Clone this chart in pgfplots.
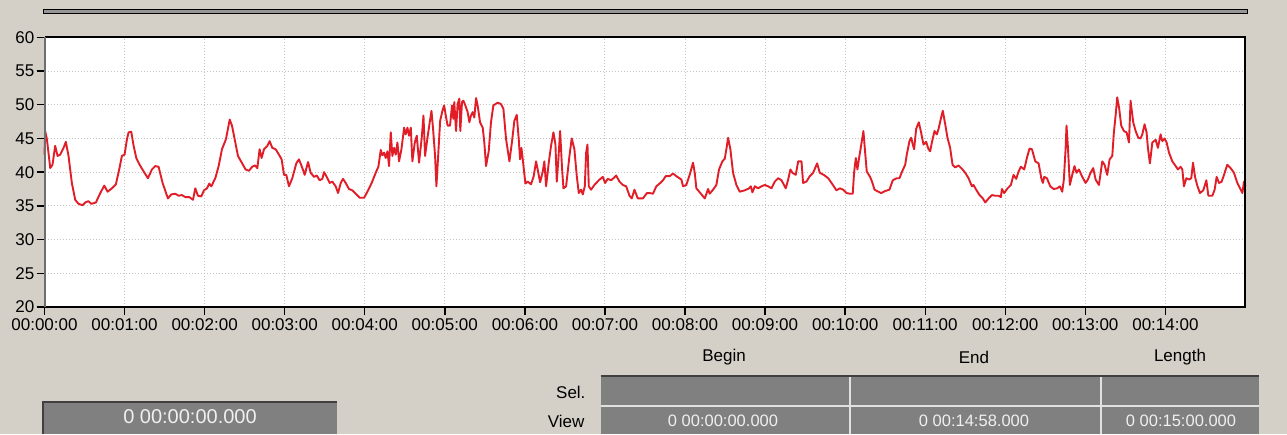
\documentclass[border=0pt]{standalone}
\usepackage{fontspec}
\setmainfont{Liberation Sans}
\usepackage{pgfplots}
\usepackage{pgfplotstable}
\pgfplotsset{compat=1.18}
\definecolor{bg}{RGB}{212,208,200}
\definecolor{boxgray}{RGB}{128,128,128}
\definecolor{boxdark}{RGB}{64,64,64}
\definecolor{leftax}{RGB}{110,110,110}
\definecolor{linered}{RGB}{225,30,40}
\definecolor{gridgray}{RGB}{196,196,196}
\definecolor{boxtext}{RGB}{240,240,240}
\definecolor{sepline}{RGB}{225,225,225}
\pgfplotstableread{
t v
0 42.6
0.5 46.1
1.8 44.9
4.3 40.6
6.0 41.1
8.0 43.9
9.8 42.4
11.8 42.6
14.3 43.6
16.0 44.5
18.0 42.4
20.5 38.4
23.0 35.9
25.5 35.3
28.5 35.1
30.5 35.5
33.0 35.7
35.0 35.3
38.5 35.5
41.8 36.9
44.8 38.0
47.3 37.1
50.5 37.6
53.5 38.2
56.0 40.4
58.0 42.4
60.0 42.6
61.8 44.9
63.0 45.9
65.0 46.0
66.8 43.9
68.8 42.1
71.3 41.1
74.3 40.1
77.5 39.1
80.5 40.4
83.0 40.9
85.5 40.8
88.5 38.4
92.5 36.1
95.0 36.7
98.0 36.8
100.5 36.5
103.0 36.6
105.5 36.3
108.5 36.3
111.3 35.9
113.0 37.6
115.0 36.5
117.5 36.4
119.5 37.3
121.8 37.6
123.5 38.3
125.0 37.9
128.0 39.1
130.5 40.9
133.0 43.4
136.0 44.9
138.8 47.8
140.5 46.9
143.0 44.4
145.0 42.4
150.7 40.4
153.2 40.2
155.7 40.8
157.7 41.0
159.5 40.6
161.2 43.4
162.7 42.1
164.5 43.4
167.0 43.9
168.7 44.6
170.7 43.6
173.2 43.4
175.7 42.6
177.7 41.9
179.5 39.6
181.2 39.6
183.2 37.9
185.7 39.1
188.7 41.3
190.7 41.9
192.7 40.9
195.0 39.6
197.5 41.5
199.5 39.9
202.0 39.3
204.0 39.5
206.2 38.8
208.2 39.0
209.5 40.0
211.5 39.3
213.7 38.4
215.7 38.6
218.2 37.9
220.0 36.9
222.0 38.4
223.7 39.0
225.7 38.4
228.2 37.5
230.7 37.3
233.2 36.8
236.2 36.2
239.5 36.2
242.0 37.1
245.2 38.4
248.2 39.9
250.2 40.8
252.0 43.3
253.2 42.5
254.5 42.9
255.7 42.1
257.0 43.1
258.2 40.9
259.5 45.9
260.7 42.4
262.0 43.6
263.2 42.6
264.5 44.4
265.7 41.6
267.5 43.4
269.5 46.6
270.7 45.6
272.0 46.6
273.2 45.4
274.5 46.6
275.7 41.6
277.5 44.4
279.0 45.4
280.7 41.4
282.7 45.1
284.0 48.4
285.2 42.4
287.0 45.1
288.7 47.4
290.0 49.1
291.2 46.4
292.7 42.4
293.7 37.9
295.0 42.4
296.5 47.6
298.2 49.1
299.5 49.9
300.7 48.4
302.1 46.9
303.9 46.9
305.4 49.9
306.4 47.9
307.1 50.4
308.4 46.1
309.6 50.1
310.9 50.9
311.6 46.1
312.9 50.4
313.9 50.6
315.4 49.9
317.1 48.9
318.4 47.4
319.6 48.4
320.9 48.9
322.1 48.1
323.4 51.0
324.6 49.9
326.4 47.4
328.4 46.6
329.6 44.4
330.9 40.9
332.9 43.1
334.6 47.4
336.4 49.9
339.6 50.3
342.1 50.1
343.9 49.4
345.9 44.9
348.4 41.6
350.4 44.6
352.1 47.6
353.9 48.5
355.4 44.9
356.4 41.9
357.4 43.6
358.4 41.9
360.4 38.3
362.1 38.6
364.6 38.2
366.6 39.4
368.4 41.6
369.6 40.4
371.4 38.5
373.4 40.1
374.6 41.6
375.9 37.9
377.9 41.4
379.6 43.9
381.4 45.9
382.9 44.1
383.9 38.6
385.1 41.9
386.4 46.1
387.9 40.4
388.9 37.6
390.9 37.9
393.4 42.4
395.1 45.0
397.1 43.4
398.9 39.4
400.4 36.9
402.1 37.4
403.4 36.7
404.9 37.9
405.9 42.9
406.9 44.1
407.9 37.9
409.6 37.4
412.1 38.1
415.4 38.8
418.4 39.3
420.1 38.4
422.1 39.0
424.6 38.8
426.4 39.1
428.4 39.5
430.9 38.6
433.4 38.1
435.9 37.9
438.4 36.5
440.1 36.1
442.1 37.4
444.6 36.1
448.4 36.1
451.5 36.9
453.5 36.9
456.0 36.8
458.5 37.9
461.5 38.4
463.5 38.8
465.5 39.4
468.5 39.4
471.0 39.8
473.5 39.4
477.3 38.9
478.5 37.9
481.0 38.1
483.5 39.6
486.0 41.4
487.3 39.9
488.5 37.6
491.5 36.9
494.8 36.1
497.3 37.5
498.5 36.8
501.0 37.4
503.5 38.1
505.5 40.4
508.0 41.6
509.8 42.0
511.0 43.4
512.3 45.1
514.0 43.4
516.0 39.9
518.5 38.1
521.0 37.1
524.8 37.3
528.0 37.6
529.3 37.9
530.5 37.0
532.3 37.9
534.8 37.6
537.3 37.9
539.8 38.1
542.3 37.9
544.8 37.6
547.3 38.6
549.8 39.1
552.3 38.8
555.5 37.6
557.3 38.9
559.0 40.4
560.5 39.9
563.0 39.6
564.8 41.6
567.3 41.6
568.5 38.4
571.0 38.6
573.5 39.4
576.0 39.9
579.0 41.3
581.0 39.9
584.0 39.6
587.3 39.1
589.8 38.4
593.5 37.3
596.0 37.6
598.5 37.4
601.0 36.9
603.7 36.8
605.7 36.8
606.7 39.9
608.0 42.1
609.2 40.4
610.7 42.4
612.5 44.6
613.7 46.1
615.0 42.9
616.2 40.1
618.7 39.3
620.5 38.4
622.0 37.4
625.0 37.1
627.0 36.9
630.0 37.2
633.2 37.4
635.7 38.8
638.7 39.1
640.7 39.1
642.5 40.0
645.0 41.1
646.2 42.6
648.2 44.6
649.5 45.1
650.7 44.1
651.7 43.4
653.2 46.4
655.2 47.4
656.7 46.1
658.7 44.1
660.7 44.5
662.5 43.4
663.7 43.1
665.0 44.4
667.0 46.1
668.7 45.6
670.0 46.4
671.7 47.9
673.2 49.1
675.0 47.1
676.7 45.1
678.7 43.6
680.5 41.1
682.5 40.7
685.0 41.0
687.5 40.5
690.0 39.9
692.5 39.1
695.0 37.9
696.2 38.1
698.2 37.4
700.7 36.6
703.2 36.1
705.0 35.5
707.5 36.1
710.0 36.6
712.5 36.5
715.0 36.5
716.7 36.3
717.5 37.5
719.2 36.9
721.7 37.6
724.2 38.1
726.2 39.6
728.2 39.0
730.0 40.1
731.7 40.8
734.2 40.4
736.2 42.1
738.2 43.5
740.0 43.4
742.5 41.6
745.0 41.3
747.0 39.1
748.2 38.4
749.2 39.3
751.2 39.1
753.7 37.9
756.4 37.5
758.9 37.6
760.9 37.9
762.7 37.1
763.9 38.9
765.2 43.4
765.9 46.9
766.9 43.9
768.4 38.1
770.2 39.6
771.9 40.9
773.4 39.9
775.2 40.4
777.7 39.3
780.2 38.4
781.9 38.9
783.9 39.9
785.9 40.6
787.7 38.9
790.2 38.1
792.7 41.6
794.4 41.1
796.4 39.6
798.2 41.9
800.2 42.4
801.4 45.9
802.7 48.4
803.9 51.1
805.4 49.4
806.9 46.9
808.9 46.1
810.9 45.9
812.7 44.4
813.9 50.6
815.9 47.4
817.7 46.1
819.7 45.1
821.4 45.0
822.7 45.6
824.4 47.1
825.9 45.9
826.9 43.6
828.4 41.3
830.2 44.4
832.7 44.8
834.4 43.6
836.4 45.6
837.7 44.6
839.4 45.0
840.9 44.4
842.7 42.9
845.2 41.6
847.7 40.9
849.4 40.4
851.4 40.8
852.7 40.4
853.9 37.9
855.7 39.1
857.7 38.9
859.4 39.1
860.7 41.4
862.2 39.3
863.9 38.0
865.9 36.9
868.4 37.3
870.7 38.8
872.2 36.5
875.2 36.5
876.9 37.4
878.4 39.3
880.2 38.4
882.2 38.6
883.9 39.6
886.4 41.1
888.9 40.6
891.4 39.9
893.9 38.4
896.4 37.4
897.7 36.9
898.9 38.6
900.0 37.9
}\datatable
\begin{document}
\begin{tikzpicture}[x=1pt,y=1pt]
\useasboundingbox (0,0) rectangle (1287,434);
\fill[bg] (0,0) rectangle (1287,434);
% top bar
\filldraw[fill={rgb,255:red,150;green,150;blue,150}, draw=black, line width=1pt] (43.5,420.7) rectangle (1247,424.7);
\begin{axis}[
  at={(44.5pt,127pt)}, anchor=south west, scale only axis,
  width=1201pt, height=269.7pt,
  xmin=0, xmax=900, ymin=20, ymax=60,
  xtick={0,60,...,840},
  xticklabels={00:00:00,00:01:00,00:02:00,00:03:00,00:04:00,00:05:00,00:06:00,00:07:00,00:08:00,00:09:00,00:10:00,00:11:00,00:12:00,00:13:00,00:14:00},
  ytick={20,25,...,60},
  grid=major,
  major grid style={gridgray, line width=1pt, dash pattern=on 1pt off 2pt},
  axis background/.style={fill=white},
  axis line style={draw=none},
  tick align=outside, major tick length=8pt,
  xtick pos=left, ytick pos=left,
  tick style={black, line width=1.4pt},
  tick label style={font=\fontsize{17pt}{20pt}\selectfont, black},
  /pgf/number format/assume math mode=true,
  yticklabel style={inner sep=2pt},
  xticklabel style={inner sep=3pt},
  clip=false,
]
\addplot[linered, line width=1.9pt, line join=round] table[x=t, y=v] {\datatable};
\draw[black, line width=2pt] (rel axis cs:0,1) -- (rel axis cs:1,1) -- (rel axis cs:1,0) -- (rel axis cs:0,0);
\draw[leftax, line width=2pt] (rel axis cs:0,0) -- (rel axis cs:0,1);
\end{axis}
% bottom-left box
\fill[boxgray] (43.3,0) rectangle (336.7,31.7);
\draw[boxdark, line width=2pt] (43.3,0) -- (43.3,31.7) -- (336.7,31.7);
\node[text=boxtext, font=\fontsize{20pt}{24pt}\selectfont] at (190,17) {0 00:00:00.000};
% selection / view table
\fill[boxgray] (600.7,28.3) rectangle (1259,58.3);
\fill[boxgray] (600.7,0) rectangle (1259,27);
\fill[sepline] (600.7,27) rectangle (1259,28.6);
\draw[sepline, line width=1.5pt] (850,0) -- (850,58.3);
\draw[sepline, line width=1.5pt] (1101,0) -- (1101,58.3);
\draw[boxdark, line width=2pt] (600.7,58.3) -- (1259,58.3);
\begin{scope}[every node/.style={font=\fontsize{17pt}{20pt}\selectfont}]
\node at (724,77) {Begin};
\node at (974,77) {End};
\node at (1180,77) {Length};
\node[anchor=east] at (589,42) {Sel.};
\node[anchor=east] at (588,13) {View};
\end{scope}
\begin{scope}[every node/.style={text=boxtext, font=\fontsize{16.5pt}{20pt}\selectfont}]
\node at (723,13) {0 00:00:00.000};
\node at (974,13) {0 00:14:58.000};
\node at (1181,13) {0 00:15:00.000};
\end{scope}
\end{tikzpicture}
\end{document}
